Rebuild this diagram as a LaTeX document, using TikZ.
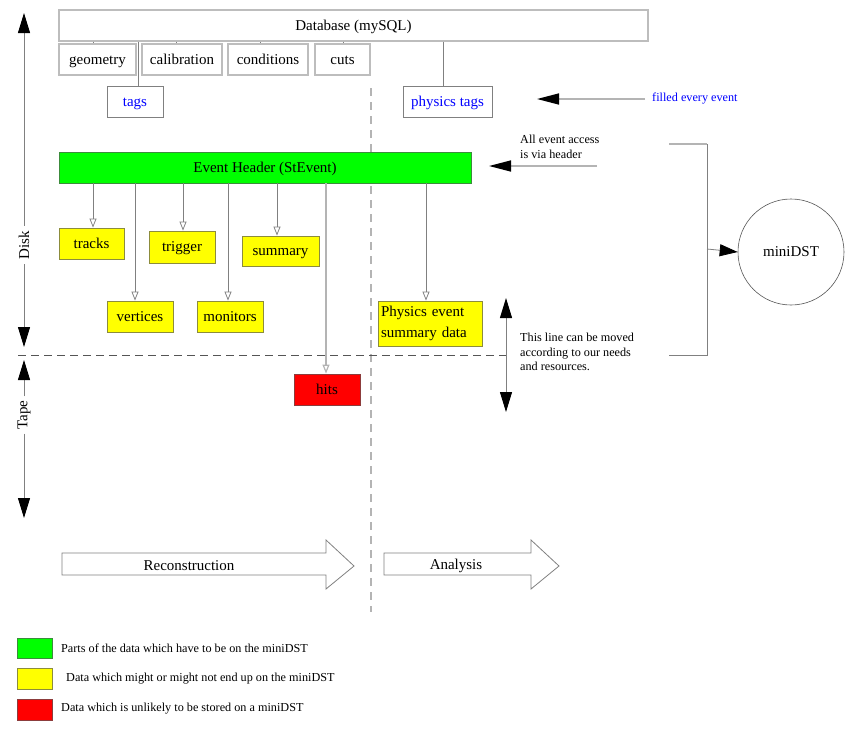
\documentclass[tikz,border=0pt]{standalone}
\usepackage{fontspec}
\setmainfont{Liberation Serif}
\usetikzlibrary{arrows.meta}
\definecolor{boxgrey}{HTML}{BDBDBD}
\definecolor{tagsgrey}{HTML}{808080}
\definecolor{lgrey}{HTML}{808080}
\definecolor{llgrey}{HTML}{B4B4B4}
\definecolor{dgrey}{HTML}{555555}
\definecolor{evgreen}{HTML}{00FF00}
\definecolor{evyellow}{HTML}{FFFF00}
\definecolor{evred}{HTML}{FF0000}
\definecolor{gborder}{HTML}{3C8C3C}
\definecolor{yborder}{HTML}{8C8C3C}
\definecolor{rborder}{HTML}{8C3C3C}
\definecolor{tagblue}{HTML}{0000FF}
\begin{document}
\begin{tikzpicture}[x=1pt,y=-1pt,
  big/.style={font=\fontsize{15}{17}\selectfont},
  small/.style={font=\fontsize{12.2}{14.5}\selectfont},
  boxtext/.style={big,text height=11.5pt,text depth=2pt},
  box/.style={boxtext,draw=boxgrey,line width=1.3pt,inner sep=0pt,minimum height=31pt},
  tagbox/.style={boxtext,draw=tagsgrey,line width=0.8pt,inner sep=0pt,minimum height=31pt,text=tagblue},
  gbox/.style={boxtext,draw=gborder,fill=evgreen,line width=0.8pt,inner sep=0pt,minimum height=31pt},
  ybox/.style={boxtext,draw=yborder,fill=evyellow,line width=0.8pt,inner sep=0pt,minimum height=31pt},
  rbox/.style={boxtext,draw=rborder,fill=evred,line width=0.8pt,inner sep=0pt,minimum height=31pt},
  ytwo/.style={draw=yborder,fill=evyellow,line width=0.8pt,inner xsep=3pt,inner ysep=0pt,
     text width=98pt,align=left,font=\fontsize{15}{21}\selectfont},
  conn/.style={draw=lgrey,line width=0.8pt},
  opentip/.style={conn,-{Triangle[open,length=9pt,width=7pt]}},
  bigtip/.style={draw=lgrey,line width=1pt,-{Triangle[length=20pt,width=12pt,color=black,fill=black]}},
  htip/.style={draw=llgrey,line width=1.5pt,-{Triangle[length=22pt,width=11pt,color=black,fill=black]}},
  fatarrow/.style={draw=lgrey,line width=0.8pt,fill=white},
  sidelabel/.style={big,rotate=90,inner xsep=5pt,inner ysep=0pt}
]
\useasboundingbox (0,0) rectangle (852,729);

% Database
\node[box,minimum width=589pt] (db) at (353.5,25.5) {Database (mySQL)};
\node[box,minimum width=77pt] (geo) at (97.5,59.5) {geometry};
\node[box,minimum width=80pt] (cal) at (182,59.5) {calibration};
\node[box,minimum width=80pt] (cond) at (268,59.5) {conditions};
\node[box,minimum width=55pt] (cuts) at (342.5,59.5) {cuts};
\node[tagbox,minimum width=56pt] (tags) at (135,101.5) {tags};
\node[tagbox,minimum width=89pt] (ptags) at (447.5,101.5) {physics tags};

\draw[conn] (db.south -| 93,0) -- (geo.north -| 93,0);
\draw[conn] (db.south -| 176,0) -- (cal.north -| 176,0);
\draw[conn] (db.south -| 260,0) -- (cond.north -| 260,0);
\draw[conn] (db.south -| 343,0) -- (cuts.north -| 343,0);
\draw[conn] (db.south -| 138,0) -- (tags.north -| 138,0);
\draw[conn] (db.south -| 443,0) -- (ptags.north -| 443,0);

% vertical dashed separator
\coordinate (vtop) at (371,88);
\coordinate (vbot) at (371,612);
\draw[draw=llgrey,line width=1.5pt,dash pattern=on 8pt off 6pt] (vtop) -- (vbot);

% Event header and data
\node[gbox,minimum width=412pt] (eh) at (265,167.5) {Event Header (StEvent)};
\node[ybox,minimum width=65pt] (tracks) at (91.5,243.5) {tracks};
\node[ybox,minimum width=66pt] (vert) at (140,316.5) {vertices};
\node[ybox,minimum width=66pt,minimum height=32pt] (trig) at (182,247) {trigger};
\node[ybox,minimum width=66pt] (mon) at (230,316.5) {monitors};
\node[ybox,minimum width=77pt,minimum height=30pt] (summ) at (280.5,251) {summary};
\node[rbox,minimum width=66pt] (hits) at (327,389.5) {hits};
\node[ytwo,minimum height=45pt] (pesd) at (430,323.5) {Physics event\\summary data};

\draw[opentip] (eh.south -| 93,0) -- (tracks.north -| 93,0);
\draw[opentip] (eh.south -| 135,0) -- (vert.north -| 135,0);
\draw[opentip] (eh.south -| 183,0) -- (trig.north -| 183,0);
\draw[opentip] (eh.south -| 228,0) -- (mon.north -| 228,0);
\draw[opentip] (eh.south -| 277,0) -- (summ.north -| 277,0);
\draw[opentip,draw=llgrey,line width=1.2pt] (eh.south -| 326,0) -- (hits.north -| 326,0);
\draw[opentip] (eh.south -| 426,0) -- (pesd.north -| 426,0);

% disk / tape boundary
\coordinate (hl) at (18,355);
\coordinate (hr) at (506,355);
\draw[draw=dgrey,line width=0.8pt,dash pattern=on 8pt off 5pt] (hl) -- (hr);
\coordinate (mvup) at (506,298);
\coordinate (mvdn) at (506,412);
\draw[bigtip] (hr) -- (mvup);
\draw[bigtip] (hr) -- (mvdn);
\node[small,anchor=north west,align=left,inner sep=0pt] (movetxt) at (520,333)
  {This line can be moved\\according to our needs\\and resources.};

% side labels
\node[sidelabel] (disk) at (24,245) {Disk};
\coordinate (disktop) at (24,13);
\coordinate (diskbot) at (24,347);
\draw[bigtip] (disk.east) -- (disktop);
\draw[bigtip] (disk.west) -- (diskbot);
\node[sidelabel,inner xsep=4pt] (tape) at (24,415) {Tape};
\coordinate (tapetop) at (24,360);
\coordinate (tapebot) at (24,518);
\draw[bigtip] (tape.east) -- (tapetop);
\draw[bigtip] (tape.west) -- (tapebot);

% annotations on the right
\node[small,anchor=west,inner sep=0pt,text=tagblue] (filled) at (652,99) {filled every event};
\coordinate (fa1) at (645,99);
\coordinate (fa2) at (537,99);
\draw[htip] (fa1) -- (fa2);
\node[small,anchor=north west,align=left,inner sep=0pt] (access) at (520,135)
  {All event access\\is via header};
\coordinate (aa1) at (597,166);
\coordinate (aa2) at (489,166);
\draw[htip] (aa1) -- (aa2);

% bracket and miniDST
\coordinate (b1) at (669,144);
\coordinate (b2) at (707,144);
\coordinate (b3) at (707,355);
\coordinate (b4) at (669,355);
\coordinate (bmid) at (707,249);
\draw[draw=llgrey,line width=1.2pt] (b1) -- (b2);
\draw[draw=lgrey,line width=0.8pt] (b2) -- (b3) -- (b4);
\node[big,draw=dgrey,line width=0.6pt,circle,minimum size=106pt,inner sep=0pt] (mdst) at (791,252) {miniDST};
\draw[draw=lgrey,line width=0.8pt,-{Triangle[length=18pt,width=12pt,color=black,fill=black]}] (bmid) -- (mdst.west);

% process arrows
\draw[fatarrow] (62,553) -- (326,553) -- (326,540) -- (354,566) -- (326,589) -- (326,575) -- (62,575) -- cycle;
\node[big] (recon) at (189,566) {Reconstruction};
\draw[fatarrow] (384,553) -- (531,553) -- (531,540) -- (559,566) -- (531,589) -- (531,575) -- (384,575) -- cycle;
\node[big] (ana) at (456,566) {Analysis};

% legend
\node[draw=gborder,fill=evgreen,line width=0.8pt,minimum width=35pt,minimum height=20pt,inner sep=0pt] (lg) at (34.5,648) {};
\node[draw=yborder,fill=evyellow,line width=0.8pt,minimum width=35pt,minimum height=21pt,inner sep=0pt] (ly) at (34.5,678.5) {};
\node[draw=rborder,fill=evred,line width=0.8pt,minimum width=35pt,minimum height=21pt,inner sep=0pt] (lr) at (34.5,709.5) {};
\node[small,anchor=west,inner sep=0pt] (lgt) at (61,648) {Parts of the data which have to be on the miniDST};
\node[small,anchor=west,inner sep=0pt] (lyt) at (66,679) {Data which might or might not end up on the miniDST};
\node[small,anchor=west,inner sep=0pt] (lrt) at (61,709) {Data which is unlikely to be stored on a miniDST};
\end{tikzpicture}
\end{document}
